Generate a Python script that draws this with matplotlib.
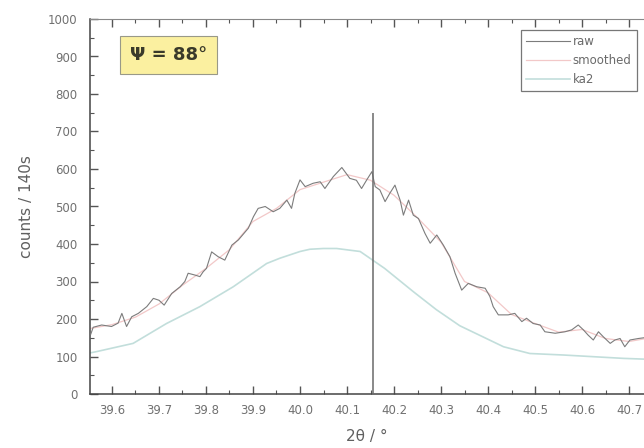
import matplotlib
matplotlib.use("Agg")
import matplotlib.pyplot as plt
from matplotlib.ticker import MultipleLocator

plt.rcParams['font.family'] = ['DejaVu Sans']

# ---- data ----
raw_x = [39.555, 39.560, 39.578, 39.599, 39.613, 39.621, 39.631, 39.642, 39.656, 39.674,
         39.688, 39.700, 39.711, 39.727, 39.745, 39.755, 39.762, 39.777, 39.787, 39.794,
         39.801, 39.812, 39.826, 39.840, 39.855, 39.869, 39.890, 39.901, 39.911, 39.926,
         39.943, 39.957, 39.972, 39.982, 39.989, 40.000, 40.011, 40.028, 40.043, 40.053,
         40.071, 40.089, 40.106, 40.120, 40.131, 40.142, 40.153, 40.160, 40.170, 40.181,
         40.191, 40.202, 40.213, 40.220, 40.231, 40.241, 40.252, 40.266, 40.277, 40.291,
         40.305, 40.319, 40.330, 40.344, 40.358, 40.376, 40.394, 40.404, 40.411, 40.422,
         40.443, 40.457, 40.472, 40.482, 40.496, 40.511, 40.521, 40.543, 40.564, 40.578,
         40.592, 40.603, 40.613, 40.624, 40.635, 40.645, 40.660, 40.670, 40.681, 40.691,
         40.702, 40.720, 40.732]
raw_y = [160, 178, 184, 180, 189, 215, 180, 206, 215, 233,
         255, 250, 237, 268, 286, 300, 322, 317, 313, 326,
         335, 379, 366, 357, 397, 411, 442, 473, 495, 500,
         486, 495, 517, 495, 535, 571, 553, 562, 566, 548,
         580, 604, 575, 570, 548, 571, 593, 553, 544, 513,
         535, 557, 517, 477, 517, 477, 468, 428, 402, 424,
         397, 366, 322, 277, 295, 286, 282, 260, 233, 211,
         211, 215, 193, 202, 188, 184, 166, 162, 166, 171,
         184, 171, 157, 144, 166, 153, 135, 144, 148, 126,
         144, 148, 150]

smooth_x = [39.555, 39.60, 39.65, 39.70, 39.75, 39.80, 39.85, 39.90, 39.95, 40.00,
            40.05, 40.10, 40.15, 40.20, 40.25, 40.30, 40.35, 40.40, 40.45, 40.50,
            40.55, 40.60, 40.65, 40.70, 40.732]
smooth_y = [175, 185, 205, 240, 290, 335, 385, 460, 495, 545,
            565, 585, 570, 530, 470, 405, 300, 270, 212, 188,
            165, 172, 148, 140, 147]

ka2_x = [39.555, 39.567, 39.645, 39.716, 39.787, 39.858, 39.929, 39.957, 40.000, 40.021,
         40.050, 40.078, 40.128, 40.180, 40.241, 40.290, 40.340, 40.433, 40.489, 40.560,
         40.688, 40.732]
ka2_y = [110, 113, 135, 188, 233, 286, 348, 362, 380, 386,
         388, 388, 380, 335, 273, 225, 182, 126, 108, 104,
         95, 93]

marker_x = 40.155
marker_top = 750

yticks = [0, 100, 200, 300, 400, 500, 600, 700, 800, 900, 1000]
xticks = [39.6, 39.7, 39.8, 39.9, 40.0, 40.1, 40.2, 40.3, 40.4, 40.5, 40.6, 40.7]
series_labels = ['raw', 'smoothed', 'ka2']

# ---- figure ----
fig = plt.figure(figsize=(6.44, 4.48), dpi=100)
ax = fig.add_axes([90/644, 54/448, 1 - 90/644, (394-19)/448])

l_ka2, = ax.plot(ka2_x, ka2_y, color='#c2dedb', lw=1.2, zorder=2)
l_raw, = ax.plot(raw_x, raw_y, color='#7c7c7c', lw=0.8, zorder=3)
l_sm, = ax.plot(smooth_x, smooth_y, color='#f2c8c8', lw=0.9, zorder=2.5)
ax.vlines(marker_x, 0, marker_top, color='#6a6a6a', lw=1.1, zorder=4)

ax.set_xlim(39.5532, 40.7319)
ax.set_ylim(0, 1000)
ax.set_xticks(xticks)
ax.set_xticklabels([f"{v:.1f}" for v in xticks])
ax.set_yticks(yticks)
ax.xaxis.set_minor_locator(MultipleLocator(0.05))
ax.yaxis.set_minor_locator(MultipleLocator(50))
ax.tick_params(which='both', direction='in', top=True, right=False,
               colors='#555555', labelsize=8.5, labelcolor='#707070')
ax.tick_params(which='major', length=6, width=1)
ax.tick_params(which='minor', length=3, width=0.8)
ax.tick_params(axis='x', pad=7)
ax.tick_params(axis='y', pad=9)

for s in ['left', 'bottom']:
    ax.spines[s].set_color('#444444')
    ax.spines[s].set_linewidth(1.1)
ax.spines['top'].set_color('#888888')
ax.spines['top'].set_linewidth(0.8)
ax.spines['right'].set_visible(False)

ax.set_ylabel('counts / 140s', fontsize=11, color='#606060', labelpad=10)
ax.set_xlabel('2θ / °', fontsize=11, color='#606060', labelpad=9)

# legend
leg = fig.legend([l_raw, l_sm, l_ka2], series_labels, loc='upper right',
                 bbox_to_anchor=(637/644, 1 - 30/448),
                 fontsize=8.5, frameon=True, fancybox=False, handlelength=3.7,
                 handletextpad=0.25, borderpad=0.45, labelspacing=0.5,
                 borderaxespad=0, labelcolor='#6a6a6a')
leg.get_frame().set_edgecolor('#555555')
leg.get_frame().set_linewidth(0.9)

# annotation box
fig.text(168.5/644, 1 - 55/448, 'Ψ = 88°', ha='center', va='center',
         fontsize=13, fontweight='bold', color='#3a3a2a',
         bbox=dict(boxstyle='square,pad=0.55', facecolor='#fbf0a0',
                   edgecolor='#999988', linewidth=0.8))

fig.savefig('out.png', dpi=100)
